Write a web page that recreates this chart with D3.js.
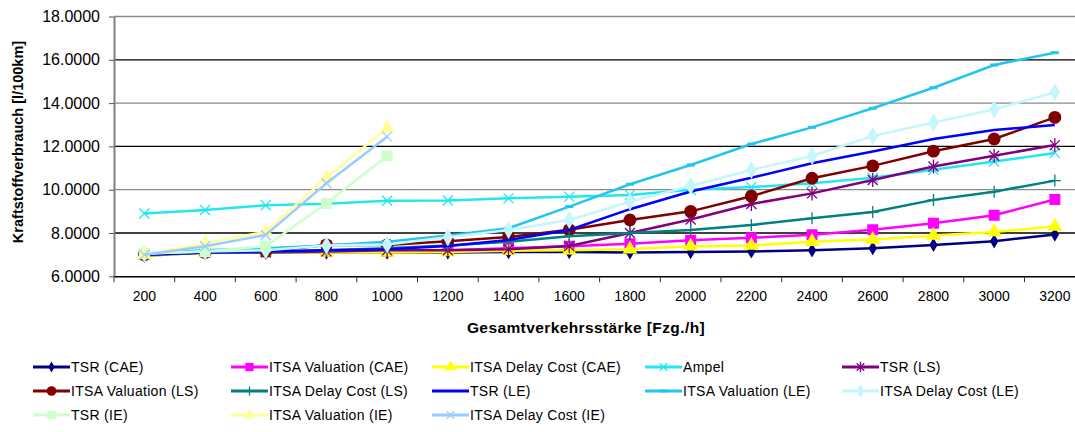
<!DOCTYPE html>
<html>
<head>
<meta charset="utf-8">
<script src="https://cdn.jsdelivr.net/npm/d3@7"></script>
<style>
	body { margin: 0; background: #fff; }
	text { font-family: "Liberation Sans", Arial, sans-serif; }
</style>
</head>
<body>
<div id="chart"></div>
<script>
// categories (Gesamtverkehrsstärke, Fzg./h)
const categories = [200, 400, 600, 800, 1000, 1200, 1400, 1600, 1800, 2000, 2200, 2400, 2600, 2800, 3000, 3200];
const y_ticks = [6, 8, 10, 12, 14, 16, 18];

// series values (l/100km)
const tsr_cae = [6.95, 7.1, 7.1, 7.1, 7.1, 7.1, 7.12, 7.12, 7.1, 7.12, 7.15, 7.2, 7.3, 7.45, 7.62, 7.93];
const itsa_val_cae = [7.0, 7.15, 7.15, 7.15, 7.15, 7.2, 7.3, 7.39, 7.5, 7.66, 7.78, 7.92, 8.15, 8.45, 8.82, 9.55];
const itsa_delay_cae = [6.95, 7.1, 7.1, 7.1, 7.1, 7.12, 7.18, 7.2, 7.25, 7.39, 7.42, 7.6, 7.7, 7.88, 8.05, 8.3];
const ampel = [8.9, 9.06, 9.28, 9.35, 9.49, 9.5, 9.6, 9.68, 9.76, 10.0, 10.12, 10.3, 10.55, 10.92, 11.3, 11.7];
const tsr_ls = [7.0, 7.1, 7.1, 7.15, 7.2, 7.2, 7.25, 7.4, 8.0, 8.62, 9.34, 9.83, 10.45, 11.07, 11.57, 12.06];
const itsa_val_ls = [7.0, 7.1, 7.15, 7.45, 7.45, 7.62, 7.82, 8.15, 8.6, 9.0, 9.7, 10.53, 11.1, 11.78, 12.34, 13.34];
const itsa_delay_ls = [7.0, 7.1, 7.12, 7.2, 7.3, 7.42, 7.6, 7.85, 8.0, 8.14, 8.37, 8.68, 8.97, 9.53, 9.91, 10.42];
const tsr_le = [7.0, 7.1, 7.15, 7.2, 7.25, 7.4, 7.68, 8.14, 9.1, 9.92, 10.55, 11.22, 11.76, 12.34, 12.76, 12.99];
const itsa_val_le = [7.05, 7.2, 7.3, 7.42, 7.6, 7.88, 8.22, 9.22, 10.25, 11.14, 12.11, 12.88, 13.76, 14.71, 15.76, 16.33];
const itsa_delay_le = [7.05, 7.15, 7.2, 7.42, 7.47, 7.8, 8.14, 8.6, 9.45, 10.17, 10.91, 11.56, 12.48, 13.1, 13.71, 14.5];
const tsr_ie = [7.05, 7.14, 7.39, 9.37, 11.56];
const itsa_val_ie = [7.0, 7.52, 8.06, 10.55, 12.85];
const itsa_delay_ie = [7.0, 7.39, 7.91, 10.3, 12.45];

const series_names = [
	"TSR (CAE)", "ITSA Valuation (CAE)", "ITSA Delay Cost (CAE)", "Ampel", "TSR (LS)",
	"ITSA Valuation (LS)", "ITSA Delay Cost (LS)", "TSR (LE)", "ITSA Valuation (LE)", "ITSA Delay Cost (LE)",
	"TSR (IE)", "ITSA Valuation (IE)", "ITSA Delay Cost (IE)",
];
const series_values = [
	tsr_cae, itsa_val_cae, itsa_delay_cae, ampel, tsr_ls,
	itsa_val_ls, itsa_delay_ls, tsr_le, itsa_val_le, itsa_delay_le,
	tsr_ie, itsa_val_ie, itsa_delay_ie,
];
const color_list = [
	"#000080", "#ff00ff", "#ffff00", "#22e6f2", "#800080",
	"#800000", "#008080", "#0000ff", "#22c4f0", "#c4f6fb",
	"#ccffcc", "#ffff99", "#99ccff",
];
const marker_list = [
	"diamond", "square", "triangle", "x", "star",
	"circle", "plus", "none", "dash", "diamond_big",
	"square", "triangle", "x",
];

const width = 1075;
const height = 432;
const margin = { top: 16.5, left: 114, bottom: 276.3 };
const step = 60.7;

const x = d3
	.scaleBand()
	.domain(categories)
	.range([margin.left, margin.left + step * categories.length]);

const y = d3
	.scaleLinear()
	.domain([6, 18])
	.range([margin.bottom, margin.top]);

const xc = (i) => x(categories[i]) + x.bandwidth() / 2;

const svg = d3
	.select("#chart")
	.append("svg")
	.attr("width", width)
	.attr("height", height)
	.style("background", "#fff");

// gridlines (scan makes them alternate black / grey)
svg
	.selectAll(".grid")
	.data(y_ticks.slice(1))
	.join("line")
	.attr("class", "grid")
	.attr("x1", margin.left)
	.attr("x2", width)
	.attr("y1", (d) => y(d))
	.attr("y2", (d) => y(d))
	.attr("stroke", (d) => (d % 4 === 0 ? "#000" : "#8a8a8a"))
	.attr("stroke-width", 1.3);

// y axis
const y_axis = svg
	.append("g")
	.attr("transform", `translate(${margin.left}, 0)`)
	.call(
		d3.axisLeft(y)
			.tickValues(y_ticks)
			.tickFormat(d3.format(".4f"))
			.tickSize(5)
			.tickSizeOuter(0)
			.tickPadding(9)
	);
y_axis.select(".domain").attr("stroke", "#808080").attr("stroke-width", 2);
y_axis.selectAll(".tick line").attr("stroke", "#555");
y_axis.selectAll("text").attr("font-size", "16px").attr("fill", "#000").style("font-family", '"Liberation Sans", Arial, sans-serif');

// x axis
const x_axis = svg
	.append("g")
	.attr("transform", `translate(0, ${margin.bottom})`)
	.call(d3.axisBottom(x).tickSize(0).tickPadding(15));
x_axis.select(".domain").attr("stroke", "#000").attr("stroke-width", 1.5);
x_axis.selectAll("text").attr("font-size", "14px").attr("fill", "#000").style("font-family", '"Liberation Sans", Arial, sans-serif');

// x ticks sit between the categories
svg
	.selectAll(".xtick")
	.data(categories)
	.join("line")
	.attr("class", "xtick")
	.attr("x1", (d) => x(d))
	.attr("x2", (d) => x(d))
	.attr("y1", margin.bottom)
	.attr("y2", margin.bottom + 6)
	.attr("stroke", "#333");

// axis titles
svg
	.append("text")
	.attr("text-anchor", "middle")
	.attr("transform", "rotate(-90)")
	.attr("x", -142)
	.attr("y", 23)
	.attr("font-size", "14.5px")
	.attr("font-weight", "bold")
	.text("Kraftstoffverbrauch [l/100km]");

svg
	.append("text")
	.attr("text-anchor", "middle")
	.attr("x", 586)
	.attr("y", 333)
	.attr("font-size", "15.5px")
	.attr("font-weight", "bold")
	.attr("letter-spacing", "0.4px")
	.text("Gesamtverkehrsstärke [Fzg./h]");

// marker drawing (k scales the marker, used smaller in the legend)
function drawMarker(g, type, color, k = 1) {
	if (type === "none") return;
	const a = k * k;
	if (type === "diamond") {
		g.append("path").attr("d", d3.symbol(d3.symbolDiamond, 60 * a)()).attr("fill", color);
	} else if (type === "diamond_big") {
		g.append("path").attr("d", d3.symbol(d3.symbolDiamond, 95 * a)()).attr("fill", color);
	} else if (type === "square") {
		g.append("path").attr("d", d3.symbol(d3.symbolSquare, 121 * a)()).attr("fill", color);
	} else if (type === "triangle") {
		g.append("path").attr("d", d3.symbol(d3.symbolTriangle, 95 * a)()).attr("fill", color);
	} else if (type === "circle") {
		g.append("path").attr("d", d3.symbol(d3.symbolCircle, 130 * a)()).attr("fill", color);
	} else if (type === "x") {
		g.append("path").attr("d", `M${-5 * k},${-5 * k}L${5 * k},${5 * k}M${-5 * k},${5 * k}L${5 * k},${-5 * k}`)
			.attr("stroke", color).attr("stroke-width", 1.3);
	} else if (type === "plus") {
		g.append("path").attr("d", `M${-6 * k},0L${6 * k},0M0,${-6 * k}L0,${6 * k}`)
			.attr("stroke", color).attr("stroke-width", 1.3);
	} else if (type === "star") {
		g.append("path").attr("d", `M${-5 * k},${-5 * k}L${5 * k},${5 * k}M${-5 * k},${5 * k}L${5 * k},${-5 * k}M0,${-7 * k}L0,${7 * k}`)
			.attr("stroke", color).attr("stroke-width", 1.3);
	} else if (type === "dash") {
		g.append("rect").attr("x", -4 * k).attr("y", -1.5).attr("width", 8 * k).attr("height", 3).attr("fill", color);
	}
}

const line = d3
	.line()
	.x((d, i) => xc(i))
	.y((d) => y(d));

// lines and markers, series by series
for (let s = 0; s < series_names.length; s++) {
	const vals = series_values[s];
	const g = svg.append("g").attr("class", "series");
	g.append("path")
		.datum(vals)
		.attr("d", line)
		.attr("fill", "none")
		.attr("stroke", color_list[s])
		.attr("stroke-width", 2.5);
	g.selectAll(".mark")
		.data(vals)
		.join("g")
		.attr("class", "mark")
		.attr("transform", (d, i) => `translate(${xc(i)}, ${y(d)})`)
		.each(function () {
			drawMarker(d3.select(this), marker_list[s], color_list[s]);
		});
}

// legend
const legend_cols = [33, 231, 432, 645, 842];
const legend_rows = [367, 391, 415];
for (let s = 0; s < series_names.length; s++) {
	const lx = legend_cols[s % 5];
	const ly = legend_rows[Math.floor(s / 5)];
	const lg = svg.append("g").attr("transform", `translate(${lx}, ${ly})`);
	lg.append("line")
		.attr("x1", 0)
		.attr("x2", 37)
		.attr("stroke", color_list[s])
		.attr("stroke-width", 3);
	const mk = lg.append("g").attr("transform", "translate(18.5, 0)");
	drawMarker(mk, marker_list[s], color_list[s], 0.75);
	lg.append("text")
		.attr("x", 38)
		.attr("y", 5)
		.attr("font-size", "14px")
		.attr("letter-spacing", "0.3px")
		.text(series_names[s]);
}
</script>
</body>
</html>
